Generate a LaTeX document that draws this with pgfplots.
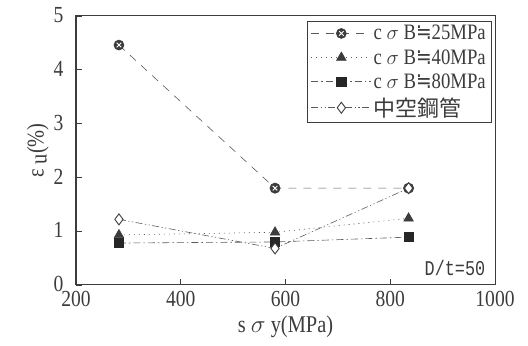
\documentclass[border=0pt]{standalone}
\usepackage{fontspec}
\setmainfont{Liberation Serif}[FakeStretch=0.85]
\newfontfamily\cjk{Noto Sans CJK JP}
\newfontfamily\sym{DejaVu Sans}[FakeStretch=0.85]
\newfontfamily\mono{Liberation Mono}[FakeStretch=0.8]
\usepackage{pgfplots}
\pgfplotsset{compat=1.18}

\definecolor{ln}{HTML}{5A5A5A}
\definecolor{mk}{HTML}{3C3C3C}

% dark disc with a light cross inside
\pgfdeclareplotmark{discx}{%
  \pgfpathcircle{\pgfpointorigin}{\pgfplotmarksize}%
  \pgfsetfillcolor{mk}\pgfsetstrokecolor{mk}%
  \pgfusepathqfillstroke
  \pgfsetstrokecolor{white}\pgfsetlinewidth{0.9pt}%
  \pgfpathmoveto{\pgfpoint{-0.45\pgfplotmarksize}{-0.45\pgfplotmarksize}}%
  \pgfpathlineto{\pgfpoint{0.45\pgfplotmarksize}{0.45\pgfplotmarksize}}%
  \pgfpathmoveto{\pgfpoint{-0.45\pgfplotmarksize}{0.45\pgfplotmarksize}}%
  \pgfpathlineto{\pgfpoint{0.45\pgfplotmarksize}{-0.45\pgfplotmarksize}}%
  \pgfusepathqstroke
}

\begin{document}
\begin{tikzpicture}
\begin{axis}[
  scale only axis,
  width=419pt, height=269pt,
  xmin=200, xmax=1000, ymin=0, ymax=5,
  xtick={200,400,600,800,1000},
  ytick={0,1,2,3,4,5},
  /pgf/number format/1000 sep={},
  /pgf/number format/assume math mode=true,
  tick align=inside,
  xtick pos=left, ytick pos=left,
  major tick length=6pt,
  axis line style={line width=1pt, draw=mk},
  tick style={line width=0.8pt, draw=mk},
  ticklabel style={font=\fontsize{23}{23}\selectfont, text=mk},
  xticklabel style={yshift=-3pt},
  yticklabel style={xshift=-9pt, yshift=1pt},
  xlabel={s $\sigma$ y(MPa)},
  ylabel={ε \raisebox{-3pt}{u}(\%)},
  label style={font=\fontsize{24}{24}\selectfont, text=mk},
  xlabel style={yshift=-2pt},
  ylabel style={yshift=-2pt},
  legend cell align=left,
  legend style={at={(0.993,0.981)}, anchor=north east, draw=mk, line width=0.6pt,
    font=\fontsize{22}{24}\selectfont, text=mk, row sep=4pt,
    inner xsep=4pt, inner ysep=2pt},
  legend image code/.code={%
    \draw[mark repeat=2,mark phase=2,#1] plot coordinates {(0pt,0pt) (30pt,0pt) (60pt,0pt)};},
  every axis plot/.append style={line width=0.6pt, draw=ln},
]
% c sigma B = 25 MPa
\addplot[dash pattern=on 8pt off 7pt, mark=discx, mark size=5pt,
  mark options={solid}]
  coordinates {(282,4.46) (580,1.80) (835,1.80)};
\addlegendentry{c $\sigma$ B{\sym ≒}25MPa}
% c sigma B = 40 MPa
\addplot[dash pattern=on 1pt off 4pt, mark=triangle*, mark size=5.5pt,
  mark options={solid, fill=mk, draw=mk}]
  coordinates {(282,0.93) (580,0.98) (835,1.24)};
\addlegendentry{c $\sigma$ B{\sym ≒}40MPa}
% c sigma B = 80 MPa
\addplot[dash pattern=on 7pt off 3pt on 1.5pt off 3pt, mark=square*, mark size=4.6pt,
  mark options={solid, fill=black!85, draw=black!85}]
  coordinates {(282,0.78) (580,0.80) (835,0.89)};
\addlegendentry{c $\sigma$ B{\sym ≒}80MPa}
% hollow steel tube
\addplot[dash pattern=on 7pt off 2.5pt on 1.2pt off 2.5pt on 1.2pt off 2.5pt, mark=diamond*, mark size=5.5pt,
  mark options={solid, fill=white, draw=mk, line width=0.9pt}]
  coordinates {(282,1.22) (580,0.68) (835,1.80)};
\addlegendentry{{\cjk 中空鋼管}}
\node[anchor=south east, font=\mono\fontsize{21}{21}\selectfont, text=mk]
  at (rel axis cs:0.985,0.02) {D/t=50};
\end{axis}
\pgfresetboundingbox
\path ([xshift=-76pt,yshift=-61pt]current axis.south west)
  rectangle ([xshift=33pt,yshift=16pt]current axis.north east);
\end{tikzpicture}
\end{document}
